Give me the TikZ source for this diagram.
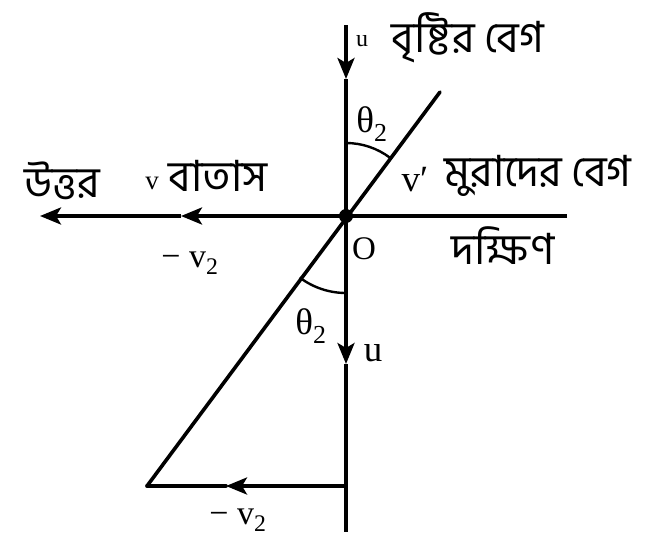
\documentclass[tikz,border=0pt]{standalone}
\usepackage{fontspec}
\setmainfont{Liberation Serif}
\newfontfamily\bn[Script=Bengali]{Hind Siliguri}
\usetikzlibrary{arrows.meta,calc}
\begin{document}
\begin{tikzpicture}[x=1pt,y=-1pt,
  ln/.style={line width=3.6pt},
  arr/.style={ln,-{Stealth[length=21pt,width=17pt,inset=5pt]}},
  lbl/.style={inner sep=0pt,font=\fontsize{37}{39}\selectfont},
  blbl/.style={inner sep=0pt,font=\bn\fontsize{43}{45}\selectfont}]
\useasboundingbox (0,0) rectangle (650,554);
% key points
\coordinate (O) at (346,216);
\coordinate (T) at (346,25);
\coordinate (Ta) at (346,79);
\coordinate (B) at (346,532);
\coordinate (Ba) at (346,364);
\coordinate (C) at (346,486);
\coordinate (R) at (567,216);
\coordinate (L) at (40,216);
\coordinate (La) at (181,216);
\coordinate (D1) at (440,92);
\coordinate (D2) at (147,486);
\coordinate (Ca) at (226,486);
% lines
\draw[arr] (T) -- (Ta);
\draw[ln] (Ta) -- (O);
\draw[arr] (O) -- (Ba);
\draw[ln] (Ba) -- (B);
\draw[ln] (R) -- (O);
\draw[arr] (O) -- (La);
\draw[arr] (La) -- (L);
\draw[ln,line cap=round] (D1) -- (D2);
\draw[arr] (C) -- (Ca);
\draw[ln,line cap=round] (Ca) -- (D2);
\fill (O) circle (7pt);
% angle arcs
\draw[line width=2.4pt] ($(O)+(0,-73)$) arc[start angle=90,end angle={90-37},radius=73pt];
\draw[line width=2.4pt] ($(O)+(0,77)$) arc[start angle=-90,end angle={-90-37},radius=77pt];
% labels
\node[lbl,font=\fontsize{24}{26}\selectfont] (lu1) at (362,41) {u};
\node[blbl] (lrain) at (468,38) {বৃষ্টির বেগ};
\node[lbl] (lt1) at (372,124) {θ\textsubscript{2}};
\node[lbl] (lv1) at (415,180) {v′};
\node[blbl] (lman) at (538,176) {মুরাদের বেগ};
\node[blbl] (lsouth) at (503,246) {দক্ষিণ};
\node[lbl,font=\fontsize{33}{35}\selectfont] (lO) at (364,249) {O};
\node[blbl] (lnorth) at (62,181) {উত্তর};
\node[lbl,font=\fontsize{27}{29}\selectfont] (lv) at (152,183) {v};
\node[blbl] (lwind) at (218,176) {বাতাস};
\node[lbl,font=\fontsize{34}{36}\selectfont] (lmv1) at (190,263) {− v\textsubscript{2}};
\node[lbl] (lt2) at (311,326) {θ\textsubscript{2}};
\node[lbl] (lu2) at (373,353) {u};
\node[lbl,font=\fontsize{34}{36}\selectfont] (lmv2) at (238,520) {− v\textsubscript{2}};
\end{tikzpicture}
\end{document}
